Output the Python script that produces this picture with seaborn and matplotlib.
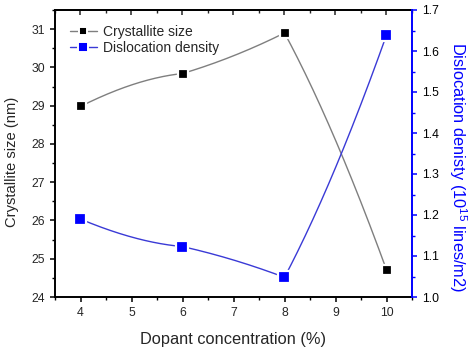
import numpy as np
import pandas as pd
import matplotlib
matplotlib.use("Agg")
import matplotlib.pyplot as plt
from matplotlib.lines import Line2D
from matplotlib.ticker import MultipleLocator, NullFormatter
import seaborn as sns

# ---- data ----
dopant = [4, 6, 8, 10]
crystallite_size = [28.98, 29.84, 30.90, 24.71]
dislocation_density = [1.19, 1.123, 1.048, 1.639]

sns.set_style("ticks")
plt.rcParams['font.family'] = ['Liberation Sans', 'DejaVu Sans']
plt.rcParams['mathtext.fontset'] = 'custom'
plt.rcParams['mathtext.rm'] = 'Liberation Sans'

W, H = 474, 349
fig = plt.figure(figsize=(W / 100, H / 100), dpi=100)
ax = fig.add_axes([55 / W, 1 - 297 / H, (412 - 55) / W, (297 - 10) / H])
ax2 = ax.twinx()

XLIM = (3.5, 10.5)
YLIM = (24, 31.5)
Y2LIM = (1.0, 1.7)

# smoothing style: tangent factors (start, end) relative to each segment's chord slope
TANGENT_FACTORS = [(1.55, 0.33), (0.75, 1.25), (0.8, 1.18)]


def smooth_curve(x, y, n=80):
    x = np.asarray(x, float)
    y = np.asarray(y, float)
    xs, ys = [], []
    for i in range(len(x) - 1):
        h = x[i + 1] - x[i]
        c = (y[i + 1] - y[i]) / h
        a, b = TANGENT_FACTORS[min(i, len(TANGENT_FACTORS) - 1)]
        m0, m1 = a * c, b * c
        s = np.linspace(0, 1, n)
        h00 = 2 * s**3 - 3 * s**2 + 1
        h10 = s**3 - 2 * s**2 + s
        h01 = -2 * s**3 + 3 * s**2
        h11 = s**3 - s**2
        xs.append(x[i] + s * h)
        ys.append(h00 * y[i] + h10 * h * m0 + h01 * y[i + 1] + h11 * h * m1)
    return pd.DataFrame({"x": np.concatenate(xs), "y": np.concatenate(ys)})


grey = "#7f7f7f"
lblue = "#3a3ad6"
blue = "#0000ff"

c1 = smooth_curve(dopant, crystallite_size)
c2 = smooth_curve(dopant, dislocation_density)

sns.lineplot(data=c1, x="x", y="y", sort=False, estimator=None, ax=ax, color=grey, lw=1.0, zorder=2)
sns.lineplot(data=c2, x="x", y="y", sort=False, estimator=None, ax=ax2, color=lblue, lw=1.0, zorder=2)

ax.plot(dopant, crystallite_size, ls='none', marker='s', ms=6.5, mfc='black', mec='white', mew=1.6, zorder=5)
ax2.plot(dopant, dislocation_density, ls='none', marker='s', ms=8, mfc=blue, mec='white', mew=1.6, zorder=5)

ax.set_xlim(*XLIM)
ax.set_ylim(*YLIM)
ax2.set_ylim(*Y2LIM)

ax.xaxis.set_major_locator(MultipleLocator(1))
ax.xaxis.set_minor_locator(MultipleLocator(0.5))
ax.yaxis.set_major_locator(MultipleLocator(1))
ax.yaxis.set_minor_locator(MultipleLocator(0.5))
ax2.yaxis.set_major_locator(MultipleLocator(0.1))
ax2.yaxis.set_minor_locator(MultipleLocator(0.05))

fs_tick = 8.8
ax.tick_params(axis='both', which='major', direction='out', length=3.8, width=1.1, labelsize=fs_tick, color='black')
ax.tick_params(axis='both', which='minor', direction='out', length=2.3, width=1.0, color='black')
ax.tick_params(axis='x', which='both', top=False)
ax2.tick_params(axis='y', which='major', direction='out', length=3.8, width=1.1, labelsize=fs_tick,
                colors='black', color=blue)
ax2.tick_params(axis='y', which='minor', direction='out', length=2.3, width=1.0, color=blue)

# top axis with inward ticks
top = ax.secondary_xaxis('top')
top.xaxis.set_major_locator(MultipleLocator(1))
top.xaxis.set_minor_locator(MultipleLocator(0.5))
top.xaxis.set_major_formatter(NullFormatter())
top.tick_params(axis='x', which='major', direction='in', length=3.8, width=1.1)
top.tick_params(axis='x', which='minor', direction='in', length=2.3, width=1.0)
top.spines['top'].set_linewidth(1.4)

for s in ['left', 'bottom', 'top']:
    ax.spines[s].set_linewidth(1.4)
    ax.spines[s].set_color('black')
ax2.spines['right'].set_color(blue)
ax2.spines['right'].set_linewidth(1.4)
ax2.spines['left'].set_visible(False)
ax2.spines['top'].set_visible(False)
ax2.spines['bottom'].set_visible(False)
ax.spines['right'].set_visible(False)

ax.set_xlabel("Dopant concentration (%)", fontsize=11.8, labelpad=9)
ax.set_ylabel("Crystallite size (nm)", fontsize=10.6, va='center', ha='center')
ax.yaxis.set_label_coords((12 - 55) / 357, (297 - 162) / 287)
ax2.set_ylabel("Dislocation denisty (10$^{15}$ lines/m2)", fontsize=11.8, color=blue,
               rotation=270, va='center', ha='center')
ax2.yaxis.set_label_coords(1 + (458 - 412) / 357, (297 - 167.5) / 287)

handles = [
    Line2D([], [], color=grey, lw=1.0, marker='s', ms=5.5, mfc='black', mec='white', mew=1.4),
    Line2D([], [], color=lblue, lw=1.0, marker='s', ms=6.5, mfc=blue, mec='white', mew=1.4),
]
ax.legend(handles, ["Crystallite size", "Dislocation density"], loc='upper left',
          frameon=False, fontsize=10, handlelength=2.0, handletextpad=0.4,
          borderaxespad=0.65, labelspacing=0.2)

fig.savefig("out.png", dpi=100)
